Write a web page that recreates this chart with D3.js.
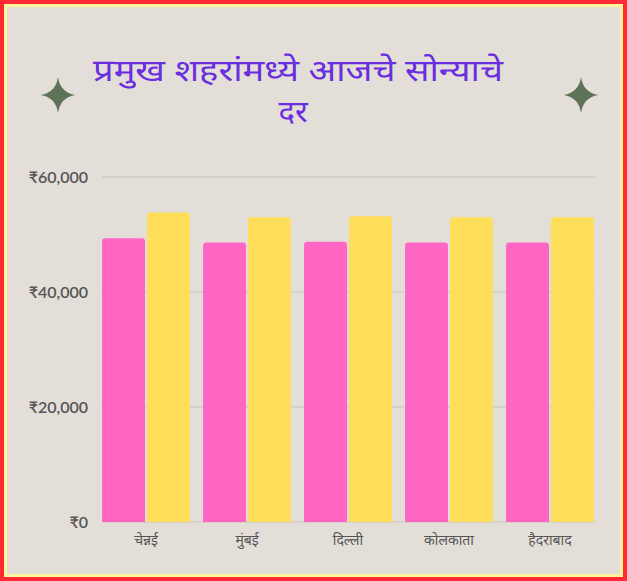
<!DOCTYPE html>
<html><head><meta charset="utf-8">
<script src="https://cdn.jsdelivr.net/npm/d3@7"></script>
<style>
html,body{margin:0;padding:0;background:#e3dfd8;}
svg{display:block;}
</style></head><body>
<svg id="c" width="627" height="581"></svg>
<script>
const titleLines = ["प्रमुख शहरांमध्ये आजचे सोन्याचे", "दर"];
const cities = ["चेन्नई", "मुंबई", "दिल्ली", "कोलकाता", "हैदराबाद"];
const series = ["22K", "24K"];
const gold22 = [49350, 48600, 48750, 48600, 48600];
const gold24 = [53840, 53020, 53170, 53020, 53020];
const yTicks = [0, 20000, 40000, 60000];
const colors = ["#ff66c4", "#ffde59"];

const svg = d3.select("#c");
const W = 627, H = 581;
svg.append("rect").attr("x",0).attr("y",0).attr("width",W).attr("height",H).attr("fill","#ff2a35");
svg.append("rect").attr("x",4).attr("y",4).attr("width",W-8).attr("height",H-8).attr("fill","#fff59a");
svg.append("rect").attr("x",7).attr("y",7).attr("width",W-14).attr("height",H-14).attr("fill","#e3dfd8");

// title
const t = svg.append("text").attr("text-anchor","middle").attr("fill","#6a2de0")
  .style("font-family","'Noto Sans','Noto Sans Devanagari',sans-serif").style("font-size","31px");
t.append("tspan").attr("x",298).attr("y",81).attr("textLength",410).attr("lengthAdjust","spacingAndGlyphs").text(titleLines[0]);
t.append("tspan").attr("x",293).attr("y",122).text(titleLines[1]);

// stars
function star(cx, cy, rx, ry){
  const k = 0.13;
  const p = `M${cx},${cy-ry} Q${cx+rx*k},${cy-ry*k} ${cx+rx},${cy} Q${cx+rx*k},${cy+ry*k} ${cx},${cy+ry} Q${cx-rx*k},${cy+ry*k} ${cx-rx},${cy} Q${cx-rx*k},${cy-ry*k} ${cx},${cy-ry}Z`;
  svg.append("path").attr("d",p).attr("fill","#5e7257");
}
star(58,95,17.5,18);
star(581,95,17.5,18);

const y = d3.scaleLinear().domain([0,60000]).range([522,177]);
const x0 = d3.scaleBand().domain(cities).range([95.5,600.5]).paddingInner(0.13).paddingOuter(0.065);
const x1 = d3.scaleBand().domain(series).range([0,x0.bandwidth()]).paddingInner(0.045);

// grid
const g = svg.append("g");
g.selectAll("line.grid").data(yTicks).join("line")
  .attr("x1",102).attr("x2",595).attr("y1",d=>y(d)).attr("y2",d=>y(d))
  .attr("stroke","#c9c5be").attr("stroke-width",1);

// y labels
const fmt = d=>"₹"+d3.format(",")(d);
g.selectAll("text.yl").data(yTicks).join("text")
  .attr("x",88).attr("y",d=>y(d)+5.5).attr("text-anchor","end")
  .attr("fill","#555").style("font-family","Lato, sans-serif").style("font-weight","600").style("font-size","16px")
  .text(fmt);

// bars
const data = cities.map((c,i)=>({city:c, vals:[gold22[i], gold24[i]]}));
const r = 3;
function barPath(x, w, yt, yb){
  return `M${x},${yb} L${x},${yt+r} Q${x},${yt} ${x+r},${yt} L${x+w-r},${yt} Q${x+w},${yt} ${x+w},${yt+r} L${x+w},${yb}Z`;
}
const grp = svg.append("g").selectAll("g").data(data).join("g")
  .attr("transform",d=>`translate(${x0(d.city)},0)`);
grp.selectAll("path").data(d=>d.vals.map((v,j)=>({s:series[j],v,j}))).join("path")
  .attr("d",d=>barPath(x1(d.s), x1.bandwidth(), y(d.v), y(0)))
  .attr("fill",d=>colors[d.j]);

// x labels
svg.append("g").selectAll("text").data(cities).join("text")
  .attr("x",d=>x0(d)+x0.bandwidth()/2).attr("y",545).attr("text-anchor","middle")
  .attr("fill","#555").style("font-family","'Noto Sans',sans-serif").style("font-size","14px")
  .text(d=>d);
</script>
</body></html>
